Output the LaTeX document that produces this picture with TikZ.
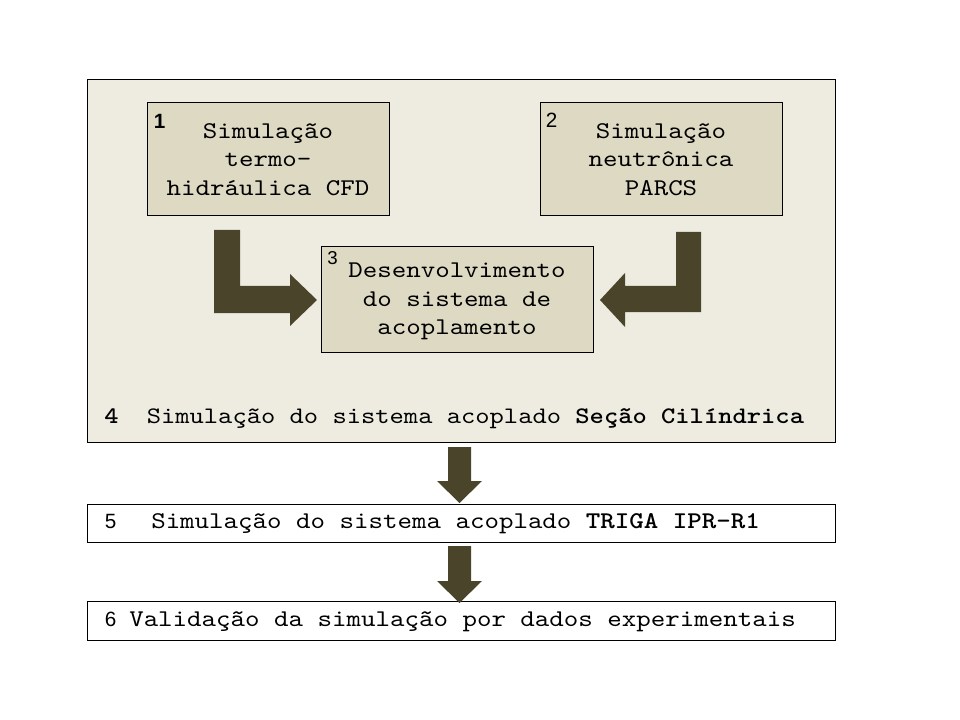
\documentclass[tikz,border=0pt]{standalone}
\usepackage{fontspec}
\setmainfont{lmmono10-regular.otf}[BoldFont=lmmonolt10-bold.otf, FakeStretch=1.15]
\newfontfamily\arialf{Liberation Sans}
\definecolor{outerfill}{HTML}{EEECE1}
\definecolor{innerfill}{HTML}{DDD9C3}
\definecolor{arrowcol}{HTML}{4A452A}
\begin{document}
\begin{tikzpicture}[x=0.75pt,y=-0.75pt,
  box/.style={draw=black, line width=0.75pt, inner sep=0pt, align=center,
              font=\fontsize{18}{21.5}\selectfont},
  outerbox/.style={box, fill=outerfill},
  innerbox/.style={box, fill=innerfill},
  plainbox/.style={box, fill=white},
  boxtext/.style={inner sep=0pt, align=center, font=\fontsize{18}{21.5}\selectfont},
  numlabel/.style={font=\arialf\fontsize{15.5}{17}\selectfont, inner sep=0pt},
  rowtext/.style={font=\fontsize{18}{21.5}\selectfont, inner sep=0pt, anchor=base west},
  blockarrow/.style={fill=arrowcol, draw=none}]
\useasboundingbox[fill=white] (0,0) rectangle (960,720);

% outer box (4)
\node[outerbox, minimum width=561pt, minimum height=271.5pt] (n4) at (461,261) {};
% inner boxes
\node[innerbox, minimum width=181.5pt, minimum height=84.75pt] (n1) at (268,159.5)
  {Simulação\\termo-\\hidráulica CFD};
\node[innerbox, minimum width=181.5pt, minimum height=84.75pt] (n2) at (661,159.5)
  {Simulação\\neutrônica\\PARCS};
\node[innerbox, minimum width=204pt, minimum height=78.75pt] (n3) at (457,299.5) {};
\node[boxtext] (t3) at (457,301.5)
  {Desenvolvimento\\do sistema de\\acoplamento};
% lower boxes
\node[plainbox, minimum width=561pt, minimum height=28.5pt] (n5) at (461,523) {};
\node[plainbox, minimum width=561pt, minimum height=29.25pt] (n6) at (461,620.5) {};

% number labels
\node[numlabel, font=\arialf\bfseries\fontsize{15.5}{17}\selectfont] (l1) at (159.5,121) {1};
\node[numlabel] (l2) at (551.5,120.5) {2};
\node[numlabel, font=\arialf\fontsize{14}{16}\selectfont] (l3) at (332.5,258.5) {3};
\node[inner sep=0pt, anchor=base west, font=\bfseries\fontsize{17.75}{21}\selectfont] (l4) at (104,423) {4};
\node[numlabel] (l5) at (110.5,521.5) {5};
\node[numlabel] (l6) at (110.5,619.5) {6};

% row texts
\node[rowtext, font=\fontsize{17.75}{21}\selectfont] (t4) at (146.5,423)
  {Simulação do sistema acoplado \textbf{Seção Cilíndrica}};
\node[rowtext] (t5) at (151,528.5)
  {Simulação do sistema acoplado \textbf{TRIGA IPR-R1}};
\node[rowtext] (t6) at (129,626)
  {Validação da simulação por dados experimentais};

% block arrows
\fill[blockarrow] (214,230) -- (240,230) -- (240,286) -- (290,286) -- (290,274)
  -- (317,300) -- (290,326) -- (290,313) -- (214,313) -- cycle;
\fill[blockarrow] (701,232) -- (676,232) -- (676,286) -- (625,286) -- (625,273)
  -- (600,300) -- (625,327) -- (625,312) -- (701,312) -- cycle;
\fill[blockarrow] (448,447) -- (471,447) -- (471,481) -- (482,481) -- (459.5,503)
  -- (437,481) -- (448,481) -- cycle;
\fill[blockarrow] (448,546) -- (471,546) -- (471,581) -- (482,581) -- (459.5,603)
  -- (437,581) -- (448,581) -- cycle;
\end{tikzpicture}
\end{document}
